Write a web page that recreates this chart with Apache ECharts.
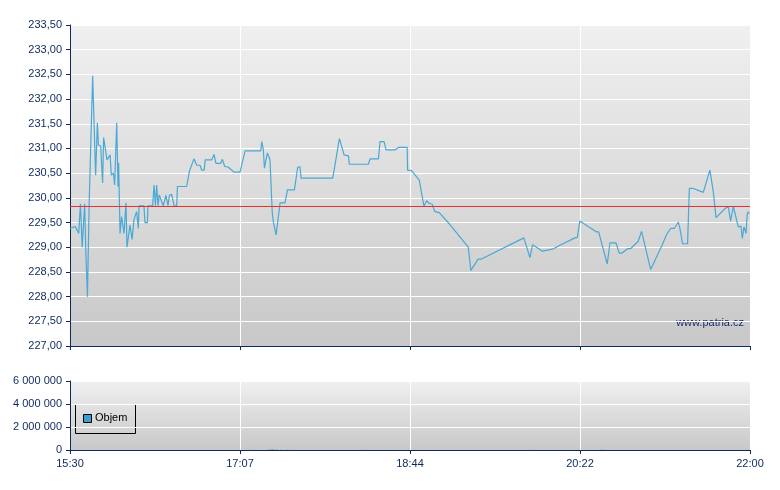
<!DOCTYPE html>
<html><head><meta charset="utf-8">
<script src="https://cdn.jsdelivr.net/npm/echarts@6/dist/echarts.min.js"></script>
<style>html,body{margin:0;background:#fff}#c{width:780px;height:490px}</style>
</head><body><div id="c"></div>
<script>
const tickLabels = ['15:30','17:07','18:44','20:22','22:00'];
const refPrice = 229.82;
const priceMinutes = [0,3,5,6,7,8.4,9,10,11,13,14.7,15.7,16.3,17.6,18.7,19.3,20.3,21.2,23,23.7,24.9,25.6,26.8,27.5,27.9,28.7,29.6,31,32.1,32.7,34.4,35.6,36.7,38.2,39.2,39.6,42.4,43,44.4,44.7,47.4,48.2,49,49.7,50.5,51.2,52.6,53.5,55,56.2,57,58.3,59.7,61.2,61.6,66.9,68.5,69.2,71.1,72.7,74.6,75.5,76.9,77.6,81.3,82.6,83.7,86.4,87.4,88.7,90.8,94.1,97.5,100.4,109.4,110,110.9,111.5,113.2,114.7,116,116.6,118.2,120.5,123.3,124.7,128.7,130.6,131.9,132.5,150.7,154.5,155.3,157.2,159.7,160.2,171.1,172.1,176.9,177.8,180.1,181.3,186.4,188.3,193.4,193.6,195.9,200.3,201.1,203,204.5,206,207.7,209.3,211.8,217.9,218.5,228.4,229,229.9,234.1,236,260.3,261.1,263.8,264.2,265.3,271,271.8,276.8,277.5,281,281.9,289.6,291,292.4,293,302,303.2,308.1,309.7,313.1,315,316.4,319.8,321.5,325.9,327.8,328.8,333,334.1,339.3,342.2,343.3,344.5,346.6,348.9,349.8,351.3,354.2,355.2,357.5,363.2,364.2,367,369,369.9,370.5,375.6,376.6,377.5,378.9,379.6,380.4,381.4,383.3,384.2,384.8,385.6,386.5,387.7,388.4,389,389.6];
const priceValues = [229.38,229.42,229.28,229.88,229.0,229.88,229.0,228.0,229.9,232.47,230.46,231.52,231.07,231.05,230.3,231.22,231.2,230.77,230.87,230.46,230.5,230.26,231.52,230.23,230.71,229.28,229.62,229.28,229.9,229.0,229.45,229.16,229.56,229.72,229.38,229.84,229.84,229.5,229.5,229.84,229.84,230.26,229.84,230.26,229.84,230.06,229.92,229.84,230.05,229.84,230.05,230.07,229.84,229.84,230.23,230.23,230.54,230.54,230.79,230.66,230.66,230.56,230.56,230.77,230.77,230.88,230.7,230.7,230.78,230.64,230.62,230.52,230.52,230.95,230.95,231.14,230.97,230.6,230.91,230.77,229.7,229.52,229.25,229.9,229.9,230.16,230.16,230.62,230.63,230.4,230.4,231.2,231.17,230.87,230.85,230.68,230.68,230.79,230.79,231.14,231.14,230.97,230.97,231.02,231.02,230.56,230.55,230.36,230.36,229.83,229.94,229.89,229.87,229.72,229.7,229.46,229.46,229.0,229.0,228.53,228.76,228.76,229.19,229.19,228.79,228.79,229.05,228.92,228.92,228.96,228.97,229.04,229.04,229.19,229.2,229.53,229.53,229.31,229.31,228.66,229.09,229.09,228.88,228.88,228.97,228.97,229.12,229.32,229.32,228.55,228.55,229.02,229.26,229.26,229.38,229.38,229.51,229.38,229.07,229.07,230.19,230.19,230.11,230.11,230.56,230.11,230.09,229.6,229.78,229.78,229.83,229.53,229.53,229.83,229.82,229.41,229.38,229.43,229.18,229.41,229.28,229.67,229.72,229.68,229.85];
const volMinutes = [104,114,115,116,117,118,119,121,125,168,264,305,306,389];
const volValues = [20000,40000,60000,70000,60000,50000,40000,30000,40000,20000,15000,20000,15000,20000];

const font = 'Liberation Sans, Arial, sans-serif';
const navy = '#0d2a5c';
const bg = {type:'linear',x:0,y:0,x2:0,y2:1,colorStops:[{offset:0,color:'#f0f0f0'},{offset:1,color:'#c8c8c8'}]};
const fmtMin = v => { const i = Math.round(v/97.5); return tickLabels[i] || ''; };
const czNum = v => String(v).replace(/\B(?=(\d{3})+(?!\d))/g,' ');
const xBase = {type:'value',min:0,max:390,interval:97.5,
  axisLine:{lineStyle:{color:navy}},axisTick:{lineStyle:{color:navy},length:4},
  splitLine:{show:true,lineStyle:{color:'#fff',width:1}},
  axisLabel:{color:navy,fontFamily:font,fontSize:11,formatter:fmtMin,showMinLabel:true,showMaxLabel:true}};
const chart = echarts.init(document.getElementById('c'));
chart.setOption({
  animation:false,
  backgroundColor:'#fff',
  grid:[{left:70,right:30,top:25,height:321,show:true,backgroundColor:bg,borderWidth:0},
        {left:70,right:30,top:381,height:69,show:true,backgroundColor:bg,borderWidth:0}],
  xAxis:[Object.assign({},xBase,{gridIndex:0,axisLabel:{show:false}}),
         Object.assign({},xBase,{gridIndex:1})],
  yAxis:[{type:'value',gridIndex:0,min:227,max:233.5,interval:0.5,
          axisLine:{show:true,lineStyle:{color:navy}},axisTick:{show:true,length:4,lineStyle:{color:navy}},
          splitLine:{lineStyle:{color:'#fff'}},
          axisLabel:{color:navy,fontFamily:font,fontSize:11,formatter:v=>v.toFixed(2).replace('.',',')}},
         {type:'value',gridIndex:1,min:0,max:6000000,interval:2000000,
          axisLine:{show:true,lineStyle:{color:navy}},axisTick:{show:true,length:4,lineStyle:{color:navy}},
          splitLine:{lineStyle:{color:'#fff'}},
          axisLabel:{color:navy,fontFamily:font,fontSize:11,formatter:czNum}}],
  legend:{show:false},
  graphic:[
    {type:'rect',left:75,top:404,shape:{width:60,height:29},style:{fill:'rgba(0,0,0,0)',stroke:'#000',lineWidth:1}},
    {type:'rect',left:83,top:414,shape:{width:8,height:8},style:{fill:'#3aa0d0',stroke:'#000',lineWidth:1}},
    {type:'text',left:95,top:412,style:{text:'Objem',fill:'#000',font:'11px '+font}},
    {type:'text',right:36,top:317,style:{text:'www.patria.cz',fill:'#1a2a6a',font:'11px '+font}}
  ],
  series:[
    {type:'line',xAxisIndex:0,yAxisIndex:0,symbol:'none',
     data:priceMinutes.map((m,i)=>[m,priceValues[i]]),
     lineStyle:{color:'#4aa8d4',width:1.2},
     markLine:{silent:true,symbol:'none',label:{show:false},lineStyle:{color:'#e83030',type:'solid',width:1},data:[{yAxis:refPrice}]}},
    {type:'bar',xAxisIndex:1,yAxisIndex:1,barWidth:1,itemStyle:{color:'#3aa0d0'},
     data:volMinutes.map((m,i)=>[m,volValues[i]])}
  ]
});
</script></body></html>
